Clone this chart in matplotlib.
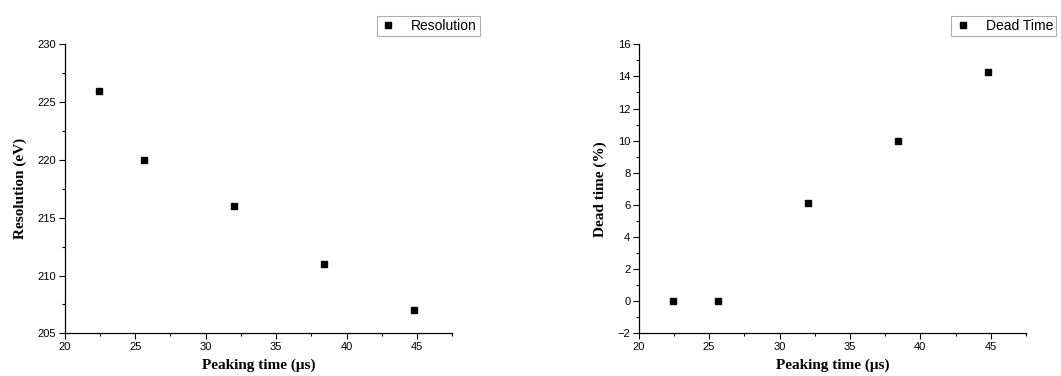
import matplotlib.pyplot as plt
from matplotlib.ticker import MultipleLocator

# data
peaking_time = [22.4, 25.6, 32.0, 38.4, 44.8]
resolution_ev = [226, 220, 216, 211, 207]
dead_time_pct = [0.0, 0.0, 6.1, 10.0, 14.3]

TICK_FONT = 'Liberation Sans'
LABEL_FONT = 'Liberation Serif'

fig = plt.figure(figsize=(10.61, 3.76), dpi=100)

W, H = 1061, 376
ax1 = fig.add_axes([64.7 / W, 1 - 333.3 / H, (452.3 - 64.7) / W, (333.3 - 44.3) / H])
ax2 = fig.add_axes([638.7 / W, 1 - 333.3 / H, (1026 - 638.7) / W, (333.3 - 44.3) / H])


def style(ax, ylabel, ymin, ymax, ymajor):
    ax.set_xlim(20, 47.5)
    ax.set_ylim(ymin, ymax)
    ax.xaxis.set_major_locator(MultipleLocator(5))
    ax.xaxis.set_minor_locator(MultipleLocator(2.5))
    ax.yaxis.set_major_locator(MultipleLocator(ymajor))
    ax.yaxis.set_minor_locator(MultipleLocator(ymajor / 2))
    for s in ['top', 'right']:
        ax.spines[s].set_visible(False)
    for s in ['left', 'bottom']:
        ax.spines[s].set_linewidth(0.9)
    ax.tick_params(which='major', direction='out', length=4, width=0.8,
                   labelsize=8, pad=2)
    ax.tick_params(which='minor', direction='out', length=2.5, width=0.8)
    for lbl in ax.get_xticklabels() + ax.get_yticklabels():
        lbl.set_fontfamily(TICK_FONT)
    ax.set_xlabel('Peaking time (μs)', fontfamily=LABEL_FONT, fontweight='bold',
                  fontsize=11, labelpad=5)
    ax.set_ylabel(ylabel, fontfamily=LABEL_FONT, fontweight='bold',
                  fontsize=11, labelpad=8)


ax1.plot(peaking_time, resolution_ev, 's', color='black', markersize=4.2,
         label='Resolution')
style(ax1, 'Resolution (eV)', 205, 230, 5)

ax2.plot(peaking_time, dead_time_pct, 's', color='black', markersize=4.2,
         label='Dead Time')
style(ax2, 'Dead time (%)', -2, 16, 2)

leg_kw = dict(loc='upper right', frameon=True, fancybox=False, edgecolor='#999999',
              prop={'family': TICK_FONT, 'size': 10}, handlelength=1.3,
              handletextpad=1.0, borderpad=0.2, markerscale=1.0)
leg1 = ax1.legend(bbox_to_anchor=(486.7 / W, 1 - 9.5 / H),
                  bbox_transform=fig.transFigure, **leg_kw)
leg2 = ax2.legend(bbox_to_anchor=(1063 / W, 1 - 9.5 / H),
                  bbox_transform=fig.transFigure, **leg_kw)
for leg in (leg1, leg2):
    leg.get_frame().set_linewidth(0.8)

fig.savefig('out.png', dpi=100)
